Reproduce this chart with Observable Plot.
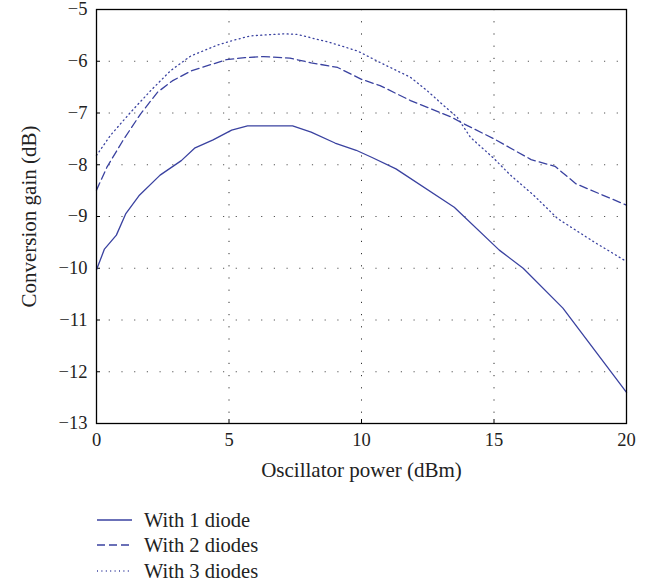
<!DOCTYPE html>
<html><head><meta charset="utf-8">
<script src="https://cdn.jsdelivr.net/npm/d3@7"></script>
<script src="https://cdn.jsdelivr.net/npm/@observablehq/plot@0.6"></script>
<style>
body{margin:0;background:#fff;font-family:"Liberation Serif",serif;color:#222}
#legend{margin-left:97px;margin-top:17px;font-size:20.5px;line-height:26px}
#legend div{display:flex;align-items:center;height:25.5px}
#legend svg{margin-right:12px}
</style>
</head><body><div id="chart"></div><div id="legend"></div>
<script>
const power1 = [0, 0.3, 0.75, 1.1, 1.6, 2.4, 3.2, 3.7, 4.4, 5.1, 5.7, 7.4, 8.1, 9.0, 9.8, 10.4, 11.3, 13.5, 15.2, 16.1, 17.6, 20];
const gain1  = [-10.03, -9.63, -9.36, -8.95, -8.6, -8.2, -7.92, -7.68, -7.52, -7.33, -7.25, -7.25, -7.37, -7.58, -7.72, -7.86, -8.08, -8.82, -9.65, -10.0, -10.77, -12.4];
const power2 = [0, 0.4, 1.0, 1.66, 2.3, 2.86, 3.6, 4.1, 4.9, 5.6, 6.3, 7.3, 8.1, 9.1, 10.0, 10.7, 11.85, 13.4, 13.75, 15.0, 16.4, 17.3, 18.1, 20];
const gain2  = [-8.49, -8.04, -7.53, -7.02, -6.6, -6.38, -6.18, -6.1, -5.97, -5.93, -5.91, -5.94, -6.03, -6.12, -6.35, -6.47, -6.76, -7.08, -7.18, -7.5, -7.9, -8.03, -8.37, -8.78];
const power3 = [0, 0.53, 1.28, 2.04, 2.8, 3.55, 4.55, 5.06, 5.8, 7.07, 7.57, 8.83, 9.84, 10.72, 11.85, 12.48, 13.11, 13.61, 14.11, 15.0, 15.62, 16.5, 17.4, 18.77, 20];
const gain3  = [-7.82, -7.43, -6.99, -6.57, -6.18, -5.9, -5.69, -5.61, -5.51, -5.47, -5.48, -5.64, -5.8, -6.03, -6.31, -6.57, -6.86, -7.08, -7.47, -7.88, -8.2, -8.59, -9.04, -9.49, -9.87];
const seriesNames = ["With 1 diode", "With 2 diodes", "With 3 diodes"];
const xTicks = [0, 5, 10, 15, 20];
const yTicks = [-5, -6, -7, -8, -9, -10, -11, -12, -13];

const color = "#3a42a0";
const dashes = [null, "8,4", "1,3.4"];
const toRows = (xs, ys) => xs.map((x, i) => ({x, y: ys[i]}));
const rows = [toRows(power1, gain1), toRows(power2, gain2), toRows(power3, gain3)];
const fmt = d => d < 0 ? "\u2212" + (-d) : String(d);
const TICK_FS = 18.5;
const TITLE_FS = 21;

const chart = Plot.plot({
  width: 650, height: 490,
  marginLeft: 96, marginRight: 24, marginTop: 9, marginBottom: 67,
  style: {fontFamily: '"Liberation Serif", serif', fontSize: TICK_FS + "px", color: "#222", background: "#fff"},
  x: {domain: [0, 20]},
  y: {domain: [-13, -5]},
  marks: [
    Plot.gridX(xTicks.slice(1, -1), {stroke: "#333", strokeOpacity: 1, strokeDasharray: "1.2,11"}),
    Plot.gridY(yTicks.slice(1, -1), {stroke: "#555", strokeOpacity: 1, strokeDasharray: "1.2,11.5"}),
    Plot.axisX(xTicks, {tickSize: -4, tickPadding: 13, tickFormat: fmt, fontSize: TICK_FS, label: null, stroke: "#000"}),
    Plot.axisX({ticks: [], label: "Oscillator power (dBm)", labelAnchor: "center", labelOffset: 53, labelArrow: "none", fontSize: TITLE_FS, tickSize: 0}),
    Plot.axisY(yTicks, {tickSize: -4, tickPadding: 13, tickFormat: fmt, fontSize: TICK_FS, label: null, stroke: "#000"}),
    Plot.axisY({ticks: [], label: "Conversion gain (dB)", labelAnchor: "center", labelOffset: 75, labelArrow: "none", fontSize: TITLE_FS, tickSize: 0}),
    ...rows.map((r, i) => Plot.line(r, {x: "x", y: "y", stroke: color, strokeWidth: 1.3, strokeDasharray: dashes[i]})),
    Plot.frame({stroke: "#000", strokeWidth: 1.3})
  ]
});
document.getElementById("chart").append(chart);

const legend = document.getElementById("legend");
seriesNames.forEach((name, i) => {
  const row = document.createElement("div");
  row.innerHTML = `<svg width="35" height="4"><line x1="0" x2="35" y1="2" y2="2" stroke="${color}" stroke-width="1.3" ${dashes[i] ? `stroke-dasharray="${dashes[i]}"` : ""}/></svg><span>${name}</span>`;
  legend.append(row);
});
</script>
</body></html>
